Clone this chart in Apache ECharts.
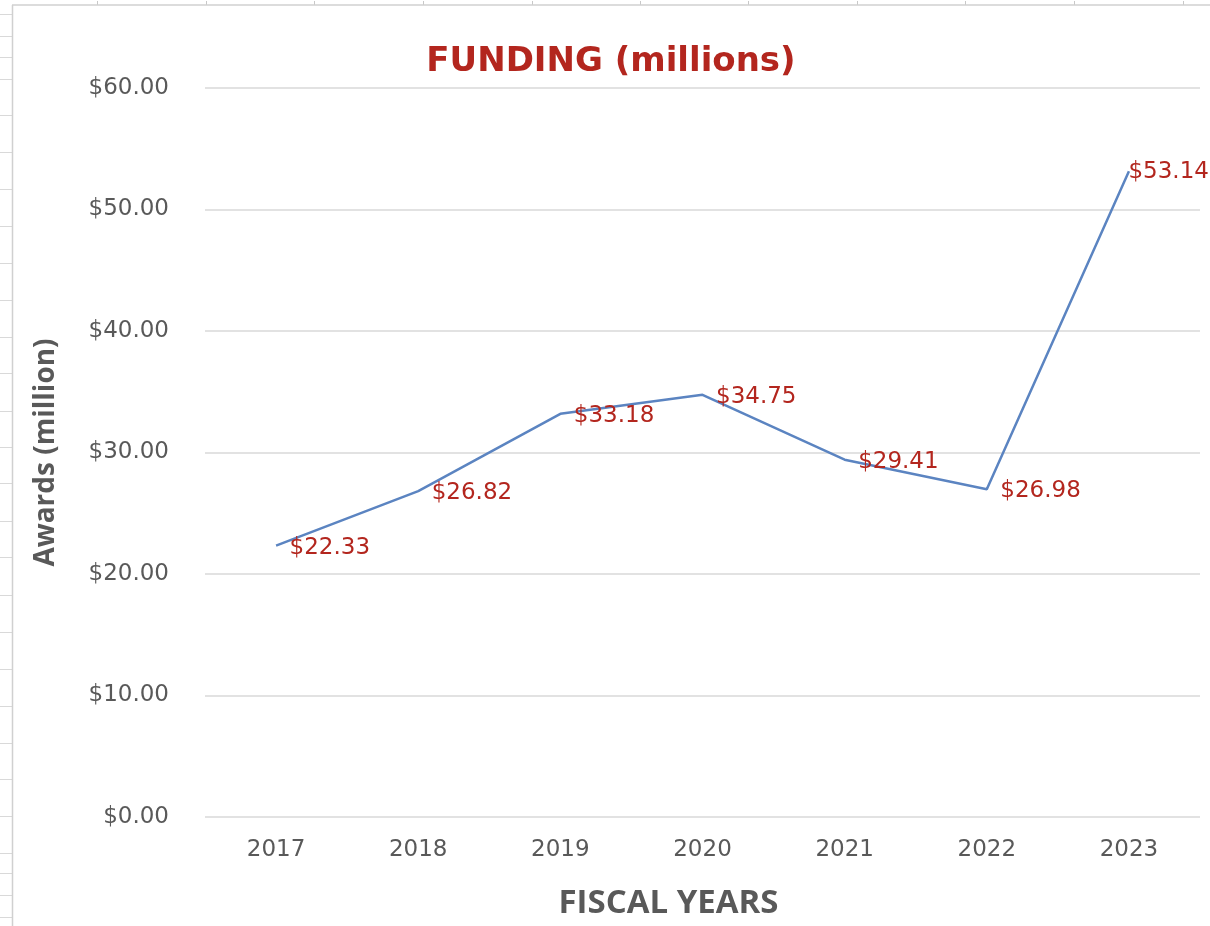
<!DOCTYPE html>
<html>
<head>
<meta charset="utf-8">
<script src="https://cdn.jsdelivr.net/npm/echarts@6/dist/echarts.min.js"></script>
<style>
html,body{margin:0;padding:0;background:#fff;}
#main{width:1210px;height:926px;}
</style>
</head>
<body>
<div id="main"></div>
<script>
const categories = ['2017','2018','2019','2020','2021','2022','2023'];
const funding = [22.33, 26.82, 33.18, 34.75, 29.41, 26.98, 53.14];
const yTicks = [0, 10, 20, 30, 40, 50, 60];

const chart = echarts.init(document.getElementById('main'));

// spreadsheet decoration (background cell lines)
const rowLines = [14, 36, 57, 79, 115, 152, 189, 226, 263, 300, 337, 373, 411, 447, 483, 521, 557, 595, 632, 669, 706, 743, 779, 816, 853, 873, 895, 917];
const colTicks = [97, 206, 314, 423, 532, 640, 748, 857, 965, 1074, 1183];
const deco = [];
rowLines.forEach(y => deco.push({type:'line', shape:{x1:0,y1:y+0.5,x2:12,y2:y+0.5}, style:{stroke:'#d9d9d9', lineWidth:1}, silent:true}));
colTicks.forEach(x => deco.push({type:'line', shape:{x1:x+0.5,y1:1,x2:x+0.5,y2:5}, style:{stroke:'#c8c8c8', lineWidth:1}, silent:true}));
deco.push({type:'line', shape:{x1:12.5,y1:5,x2:12.5,y2:926}, style:{stroke:'#d0d0d0', lineWidth:1.5}, silent:true});
deco.push({type:'line', shape:{x1:12,y1:5,x2:1210,y2:5}, style:{stroke:'#d0d0d0', lineWidth:1.5}, silent:true});

const seriesData = funding.map((v, i) => {
  const item = { value: v };
  if (i === funding.length - 1) {
    item.label = { offset: [-14, 1] };
  }
  return item;
});

chart.setOption({
  backgroundColor: '#ffffff',
  animation: false,
  graphic: deco,
  title: {
    text: 'FUNDING (millions)',
    left: 606,
    textAlign: 'center',
    top: 40,
    textStyle: { color: '#B3261E', fontSize: 34, fontWeight: 'bold', fontFamily: 'DejaVu Sans' }
  },
  grid: { left: 205, right: 10, top: 88, bottom: 109, outerBoundsMode: 'none', containLabel: false },
  xAxis: {
    type: 'category',
    data: categories,
    boundaryGap: true,
    name: 'FISCAL YEARS',
    nameLocation: 'middle',
    nameGap: 70,
    nameTextStyle: { color: '#595959', fontSize: 33, fontWeight: 'bold', fontFamily: 'Open Sans', padding: [0, 68, 0, 0] },
    axisLine: { show: false },
    axisTick: { show: false },
    axisLabel: { color: '#595959', fontSize: 23, margin: 22, fontFamily: 'DejaVu Sans' }
  },
  yAxis: {
    type: 'value',
    min: 0,
    max: 60,
    interval: 10,
    name: 'Awards (million)',
    nameLocation: 'middle',
    nameRotate: 90,
    nameGap: 145,
    nameTextStyle: { color: '#595959', fontSize: 28, fontWeight: 'bold', fontFamily: 'Open Sans' },
    axisLine: { show: false },
    axisTick: { show: false },
    splitLine: { lineStyle: { color: '#d9d9d9', width: 1.5 } },
    axisLabel: {
      color: '#595959', fontSize: 23, margin: 36, fontFamily: 'DejaVu Sans',
      formatter: v => yTicks.includes(v) ? '$' + v.toFixed(2) : ''
    }
  },
  series: [{
    type: 'line',
    data: seriesData,
    symbol: 'circle',
    symbolSize: 1,
    showSymbol: true,
    itemStyle: { color: 'rgba(0,0,0,0)' },
    lineStyle: { color: '#5B84C1', width: 2.5 },
    label: {
      show: true,
      position: 'right',
      distance: 13,
      offset: [0, 2],
      color: '#B3261E',
      fontSize: 23,
      fontFamily: 'DejaVu Sans',
      formatter: p => '$' + p.value.toFixed(2)
    }
  }]
});
</script>
</body>
</html>
